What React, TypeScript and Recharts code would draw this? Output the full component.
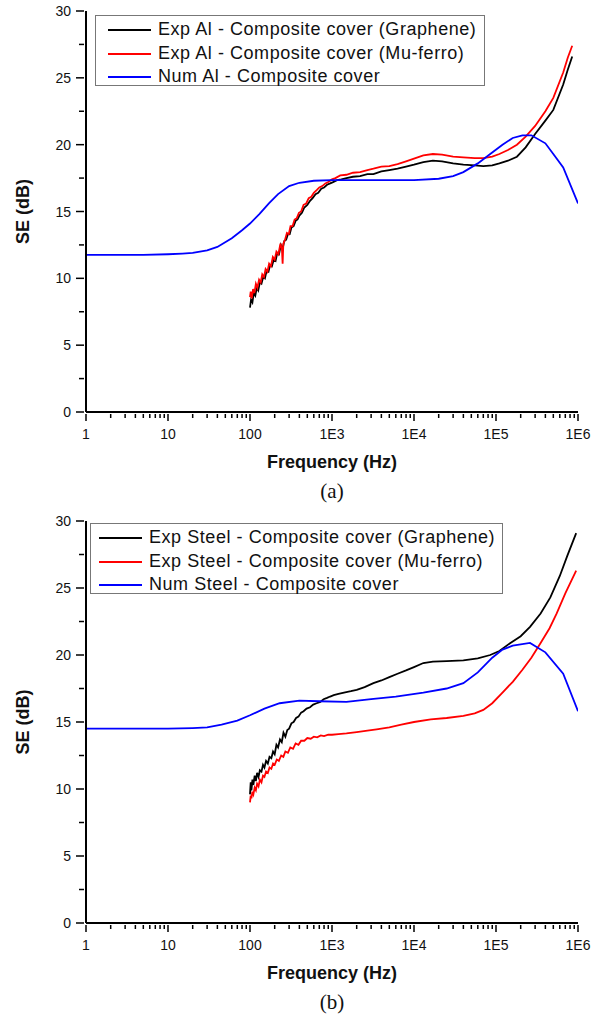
import { LineChart, Line, XAxis, YAxis, Legend } from "recharts";

// [frequency (Hz), SE (dB)]
const alGraphene: [number, number][] = [
  [100, 7.8], [103, 8.4], [107, 8.2], [111, 8.9], [116, 8.7], [121, 9.3], [126, 9.1], [132, 9.7],
  [138, 9.6], [145, 10.1], [152, 10.0], [160, 10.6], [168, 10.5], [176, 11.0], [185, 10.9], [195, 11.4],
  [205, 11.3], [215, 11.9], [226, 11.8], [238, 12.5], [250, 12.2], [262, 12.8], [276, 12.9], [290, 13.3],
  [305, 13.3], [320, 13.8], [340, 13.9], [360, 14.3], [380, 14.4], [400, 14.7], [430, 14.9], [460, 15.3],
  [500, 15.5], [540, 15.8], [580, 16.0], [630, 16.3], [680, 16.4], [740, 16.7], [800, 16.8], [870, 17.0],
  [950, 17.1], [1030, 17.2], [1150, 17.35], [1300, 17.4], [1500, 17.5], [1800, 17.6], [2200, 17.65],
  [2700, 17.8], [3200, 17.8], [4000, 18.0], [5000, 18.1], [6300, 18.2], [8000, 18.35], [1e4, 18.5],
  [1.3e4, 18.7], [1.7e4, 18.8], [2.2e4, 18.75], [3e4, 18.6], [4e4, 18.5], [5.5e4, 18.45], [7e4, 18.4],
  [9e4, 18.45], [1.1e5, 18.6], [1.4e5, 18.8], [1.8e5, 19.1], [2.3e5, 19.8], [3e5, 20.8], [4e5, 21.8],
  [5e5, 22.6], [6.6e5, 24.5], [7.5e5, 25.6], [8.5e5, 26.6],
];

const alMuFerro: [number, number][] = [
  [100, 8.6], [102, 9.0], [105, 8.5], [109, 9.2], [113, 8.9], [118, 9.6], [123, 9.3], [129, 9.9],
  [135, 9.7], [141, 10.3], [148, 10.1], [155, 10.7], [163, 10.5], [171, 11.1], [180, 10.9], [190, 11.6],
  [200, 11.4], [210, 12.0], [222, 11.8], [235, 12.6], [245, 12.2], [250, 11.1], [255, 12.6], [268, 12.9],
  [282, 13.4], [297, 13.3], [312, 13.9], [330, 13.9], [350, 14.4], [372, 14.5], [395, 14.9], [420, 15.0],
  [450, 15.5], [485, 15.6], [520, 16.0], [560, 16.1], [600, 16.4], [650, 16.6], [700, 16.8], [760, 16.9],
  [830, 17.1], [900, 17.2], [1000, 17.4], [1100, 17.5], [1260, 17.7], [1500, 17.75], [1800, 17.9],
  [2200, 17.95], [2700, 18.1], [3200, 18.2], [4000, 18.35], [5000, 18.4], [6300, 18.55], [8000, 18.75],
  [1e4, 18.95], [1.3e4, 19.2], [1.7e4, 19.3], [2.2e4, 19.25], [3e4, 19.1], [4e4, 19.05], [5.5e4, 19.0],
  [7e4, 19.0], [9e4, 19.1], [1.1e5, 19.3], [1.4e5, 19.6], [1.8e5, 20.0], [2.3e5, 20.6], [3e5, 21.4],
  [4e5, 22.5], [5e5, 23.5], [6.6e5, 25.4], [7.5e5, 26.5], [8.5e5, 27.4],
];

const alNum: [number, number][] = [
  [1, 11.75], [2, 11.75], [5, 11.75], [10, 11.8], [15, 11.85], [20, 11.9], [30, 12.1], [40, 12.35],
  [60, 13.0], [80, 13.6], [100, 14.1], [130, 14.8], [170, 15.6], [220, 16.3], [300, 16.9], [400, 17.15],
  [600, 17.3], [1e3, 17.35], [3e3, 17.35], [1e4, 17.35], [2e4, 17.45], [3e4, 17.65], [4e4, 17.95],
  [6e4, 18.6], [8.5e4, 19.3], [1.2e5, 20.0], [1.6e5, 20.5], [2.1e5, 20.7], [2.7e5, 20.7], [4e5, 20.1],
  [5e5, 19.3], [6.6e5, 18.3], [1e6, 15.6],
];

const steelGraphene: [number, number][] = [
  [100, 9.6], [102, 10.5], [104, 9.9], [107, 10.7], [110, 10.3], [114, 11.0], [118, 10.6], [122, 11.2],
  [127, 10.9], [132, 11.4], [138, 11.3], [144, 11.8], [150, 11.6], [157, 12.1], [165, 11.9], [173, 12.4],
  [182, 12.3], [191, 12.8], [200, 12.6], [210, 13.3], [220, 13.1], [232, 13.7], [244, 13.5], [256, 14.2],
  [270, 13.9], [285, 14.4], [300, 14.5], [320, 14.9], [340, 15.0], [365, 15.3], [390, 15.4], [420, 15.7],
  [450, 15.8], [490, 16.0], [540, 16.1], [590, 16.3], [650, 16.4], [720, 16.5], [790, 16.7], [870, 16.8],
  [950, 16.9], [1050, 17.0], [1200, 17.1], [1400, 17.2], [1700, 17.3], [2000, 17.4], [2500, 17.6],
  [3200, 17.9], [4000, 18.1], [5000, 18.35], [6300, 18.6], [8000, 18.85], [1e4, 19.1], [1.3e4, 19.4],
  [1.7e4, 19.5], [2.5e4, 19.55], [4e4, 19.6], [6e4, 19.75], [8.5e4, 20.0], [1.1e5, 20.3], [1.5e5, 20.9],
  [2e5, 21.4], [2.6e5, 22.1], [3.5e5, 23.1], [4.6e5, 24.3], [6e5, 25.9], [7.4e5, 27.4], [9.5e5, 29.1],
];

const steelMuFerro: [number, number][] = [
  [100, 9.0], [102, 9.5], [104, 9.3], [107, 9.8], [110, 9.6], [114, 10.1], [118, 9.9], [122, 10.4],
  [127, 10.2], [132, 10.7], [138, 10.5], [144, 11.0], [150, 10.9], [157, 11.3], [165, 11.2], [173, 11.6],
  [182, 11.5], [191, 11.9], [200, 11.8], [212, 12.2], [225, 12.1], [240, 12.5], [255, 12.4], [270, 12.8],
  [290, 12.7], [310, 13.1], [335, 13.0], [360, 13.4], [390, 13.3], [420, 13.6], [460, 13.6], [500, 13.8],
  [550, 13.75], [600, 13.9], [660, 13.85], [730, 14.0], [800, 13.95], [900, 14.05], [1000, 14.05],
  [1200, 14.1], [1500, 14.15], [2000, 14.25], [2700, 14.35], [3500, 14.45], [5000, 14.6], [7000, 14.8],
  [1e4, 15.0], [1.6e4, 15.2], [2.5e4, 15.3], [4e4, 15.45], [5.5e4, 15.65], [7e4, 15.9], [9e4, 16.4],
  [1.2e5, 17.2], [1.6e5, 18.0], [2.1e5, 18.9], [2.7e5, 19.8], [3.5e5, 20.9], [4.5e5, 22.0], [5.5e5, 23.1],
  [7e5, 24.6], [9.5e5, 26.3],
];

const steelNum: [number, number][] = [
  [1, 14.5], [10, 14.5], [20, 14.55], [30, 14.6], [45, 14.8], [70, 15.1], [100, 15.5], [150, 16.0],
  [230, 16.4], [400, 16.6], [700, 16.55], [1500, 16.5], [3000, 16.7], [6000, 16.9], [1.3e4, 17.2],
  [2.5e4, 17.5], [4e4, 17.9], [6e4, 18.7], [9e4, 19.8], [1.2e5, 20.4], [1.6e5, 20.7], [2.6e5, 20.9],
  [4e5, 20.2], [6.6e5, 18.6], [1e6, 15.8],
];

const xMajor = [1, 10, 100, 1e3, 1e4, 1e5, 1e6];
const xMajorLabels = ["1", "10", "100", "1E3", "1E4", "1E5", "1E6"];
const yMajor = [0, 5, 10, 15, 20, 25, 30];

const legendA = [
  "Exp Al - Composite cover (Graphene)",
  "Exp Al - Composite cover (Mu-ferro)",
  "Num Al - Composite cover",
];
const legendB = [
  "Exp Steel - Composite cover (Graphene)",
  "Exp Steel - Composite cover (Mu-ferro)",
  "Num Steel - Composite cover",
];
const colors = ["#000000", "#ff0000", "#0000ff"];

const SANS = "'Liberation Sans', Arial, sans-serif";
const SERIF = "'Liberation Serif', 'Times New Roman', serif";

// minor ticks 2..9 per decade
const xTicks: number[] = [];
for (let d = 0; d < 6; d++) {
  for (let m = 1; m < 10; m++) xTicks.push(m * xMajor[d]);
}
xTicks.push(1e6);
const yTicks: number[] = [];
for (let v = 0; v <= 30; v += 2.5) yTicks.push(v);

const rows = (pts: [number, number][]) => pts.map(([f, se]) => ({ f, se }));

function FreqTick({ x, y, payload }: any) {
  const i = xMajor.indexOf(payload.value);
  const major = i >= 0;
  return (
    <g>
      <line x1={x} x2={x} y1={y} y2={y + (major ? 7 : 4)} stroke="#000" strokeWidth={1.5} />
      {major && (
        <text x={x} y={y + 25} textAnchor="middle" fontFamily={SANS} fontSize={14} fill="#111">
          {xMajorLabels[i]}
        </text>
      )}
    </g>
  );
}

function SETick({ x, y, payload }: any) {
  const major = yMajor.includes(payload.value);
  return (
    <g>
      <line x1={x - (major ? 8 : 5)} x2={x} y1={y} y2={y} stroke="#000" strokeWidth={1.5} />
      {major && (
        <text x={x - 13} y={y + 5} textAnchor="end" fontFamily={SANS} fontSize={14} fill="#111">
          {payload.value}
        </text>
      )}
    </g>
  );
}

function LegendBox({ labels, lineX, textX, width }: { labels: string[]; lineX: number; textX: number; width: number }) {
  return (
    <div
      style={{
        width,
        height: 71,
        boxSizing: "border-box",
        border: "1.5px solid #777",
        background: "#fff",
        paddingTop: 2,
      }}
    >
      {labels.map((l, i) => (
        <div
          key={l}
          style={{ position: "relative", height: 23.5, fontFamily: SANS, fontSize: 18, letterSpacing: 0.55, color: "#111" }}
        >
          <svg width={60} height={23} style={{ position: "absolute", left: 0, top: 0 }}>
            <line x1={lineX} x2={lineX + 43} y1={12} y2={12} stroke={colors[i]} strokeWidth={2} />
          </svg>
          <span style={{ position: "absolute", left: textX, top: 1, whiteSpace: "nowrap", lineHeight: "21px" }}>{l}</span>
        </div>
      ))}
    </div>
  );
}

function Panel({
  top,
  height,
  series,
  labels,
  legendPos,
  caption,
}: {
  top: number;
  height: number;
  series: [number, number][][];
  labels: string[];
  legendPos: { left: number; top: number; width: number; lineX: number; textX: number };
  caption: string;
}) {
  return (
    <div style={{ position: "absolute", left: 0, top, width: 594, height: height + 40 }}>
      <LineChart width={594} height={height} margin={{ top: 11, right: 16, left: 0, bottom: 0 }}>
        <XAxis
          dataKey="f"
          type="number"
          scale="log"
          domain={[1, 1e6]}
          ticks={xTicks}
          interval={0}
          allowDataOverflow
          height={68}
          tickSize={0}
          tickLine={false}
          axisLine={{ stroke: "#000", strokeWidth: 2 }}
          tick={<FreqTick />}
          label={{
            content: ({ viewBox }: any) => (
              <text
                x={viewBox.x + viewBox.width / 2}
                y={viewBox.y + 56}
                textAnchor="middle"
                fontFamily={SANS}
                fontWeight="bold"
                fontSize={18}
                fill="#111"
              >
                Frequency (Hz)
              </text>
            ),
          }}
        />
        <YAxis
          type="number"
          domain={[0, 30]}
          ticks={yTicks}
          interval={0}
          width={86}
          tickSize={0}
          tickLine={false}
          axisLine={{ stroke: "#000", strokeWidth: 2 }}
          tick={<SETick />}
          label={{
            content: ({ viewBox }: any) => {
              const cx = viewBox.x + 23;
              const cy = viewBox.y + viewBox.height / 2;
              return (
                <text
                  x={cx}
                  y={cy}
                  transform={`rotate(-90 ${cx} ${cy})`}
                  textAnchor="middle"
                  dominantBaseline="central"
                  fontFamily={SANS}
                  fontWeight="bold"
                  fontSize={18}
                  fill="#111"
                >
                  SE (dB)
                </text>
              );
            },
          }}
        />
        <Legend
          layout="horizontal"
          verticalAlign="middle"
          align="center"
          wrapperStyle={{ left: legendPos.left, top: legendPos.top, width: legendPos.width, height: 71 }}
          content={() => (
            <LegendBox labels={labels} lineX={legendPos.lineX} textX={legendPos.textX} width={legendPos.width} />
          )}
        />
        {series.map((s, i) => (
          <Line
            key={labels[i]}
            data={rows(s)}
            dataKey="se"
            type="linear"
            stroke={colors[i]}
            strokeWidth={1.8}
            dot={false}
            isAnimationActive={false}
          />
        ))}
      </LineChart>
      <div
        style={{
          position: "absolute",
          left: 0,
          width: 664,
          top: height - 1,
          textAlign: "center",
          fontFamily: SERIF,
          fontSize: 21,
          lineHeight: "24px",
          color: "#111",
        }}
      >
        {caption}
      </div>
    </div>
  );
}

export default function App() {
  return (
    <div style={{ position: "absolute", left: 0, top: 0, width: 594, height: 1018, background: "#fff" }}>
      <Panel
        top={0}
        height={480}
        series={[alGraphene, alMuFerro, alNum]}
        labels={legendA}
        legendPos={{ left: 95, top: 15, width: 390, lineX: 12, textX: 62 }}
        caption="(a)"
      />
      <Panel
        top={510}
        height={481}
        series={[steelGraphene, steelMuFerro, steelNum]}
        labels={legendB}
        legendPos={{ left: 90, top: 13, width: 413, lineX: 8, textX: 58 }}
        caption="(b)"
      />
    </div>
  );
}
